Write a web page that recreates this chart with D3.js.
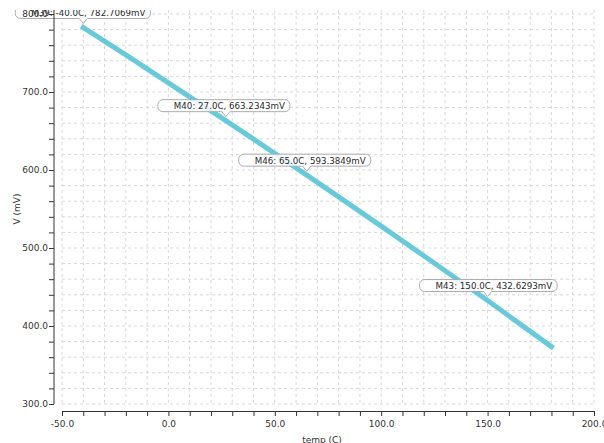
<!DOCTYPE html>
<html><head><meta charset="utf-8">
<script src="https://cdn.jsdelivr.net/npm/d3@7"></script>
<style>
html,body{margin:0;padding:0;background:#fff;}
svg{display:block;font-family:"DejaVu Sans",sans-serif;}
</style></head>
<body>
<svg id="c" width="604" height="443"></svg>
<script>
// Data
const temps   = [-40, -20, 0, 27, 40, 65, 80, 100, 120, 150, 180];
const voltage = [782.7, 747.5, 711.8, 663.2, 639.5, 593.4, 565.6, 528.0, 490.0, 432.6, 373.5];
const markerNames = ["M39", "M40", "M46", "M43"];
const markerTemps = [-40.0, 27.0, 65.0, 150.0];
const markerVals  = [782.7069, 663.2343, 593.3849, 432.6293];
const xTicks = [-50, 0, 50, 100, 150, 200];
const yTicks = [300, 400, 500, 600, 700, 800];

const svg = d3.select("#c");
const x = d3.scaleLinear().domain([-50, 200]).range([62, 594]);
const y = d3.scaleLinear().domain([300, 800]).range([404, 14]);
const plotTop = 10;

// grid
const g = svg.append("g");
g.selectAll("line.v").data(d3.range(-50, 201, 10)).join("line")
  .attr("x1", d => x(d)).attr("x2", d => x(d)).attr("y1", plotTop).attr("y2", 404)
  .attr("stroke", "#d8d8d8").attr("stroke-dasharray", "3,3");
g.selectAll("line.h").data(d3.range(300, 801, 20)).join("line")
  .attr("y1", d => y(d)).attr("y2", d => y(d)).attr("x1", 62).attr("x2", 594)
  .attr("stroke", "#d8d8d8").attr("stroke-dasharray", "3,3");

// line
const pts = temps.map((t, i) => [t, voltage[i]]);
svg.append("path").datum(pts)
  .attr("d", d3.line().x(d => x(d[0])).y(d => y(d[1])))
  .attr("fill", "none").attr("stroke", "#66cadb").attr("stroke-width", 5)
  .attr("stroke-linecap", "square");

// marker labels
svg.append("defs").append("clipPath").attr("id", "clipTop")
  .append("rect").attr("x", 0).attr("y", plotTop).attr("width", 604).attr("height", 443);
const mg = svg.append("g").attr("clip-path", "url(#clipTop)");
markerNames.forEach((nm, i) => {
  const px = x(markerTemps[i]), py = y(markerVals[i]);
  const label = nm + ": " + markerTemps[i].toFixed(1) + "C, " + markerVals[i].toFixed(4) + "mV";
  const grp = mg.append("g");
  const t = grp.append("text").attr("font-size", 8.7).attr("fill", "#2a2a2a").text(label);
  const tw = t.node().getComputedTextLength();
  const left = px - 68, bottom = py - 9, h = 12, topY = bottom - h, w = tw + 21, r = 5;
  const right = left + w;
  const p = d3.path();
  p.moveTo(left + r, topY);
  p.lineTo(right - r, topY);
  p.arcTo(right, topY, right, topY + r, r);
  p.lineTo(right, bottom - r);
  p.arcTo(right, bottom, right - r, bottom, r);
  p.lineTo(px + 4, bottom);
  p.lineTo(px, bottom + 5);
  p.lineTo(px - 4, bottom);
  p.lineTo(left + r, bottom);
  p.arcTo(left, bottom, left, bottom - r, r);
  p.lineTo(left, topY + r);
  p.arcTo(left, topY, left + r, topY, r);
  p.closePath();
  grp.insert("path", "text").attr("d", p.toString())
    .attr("fill", "#fff").attr("fill-opacity", 0.85).attr("stroke", "#ababab").attr("stroke-width", 1);
  t.attr("x", left + 16).attr("y", bottom - 2.5);
});

// y axis
const yAxis = d3.axisLeft(y).tickValues(d3.range(300, 801, 20))
  .tickFormat(d => yTicks.includes(d) ? d.toFixed(1) : "")
  .tickSize(5).tickSizeOuter(0).tickPadding(1);
const ya = svg.append("g").attr("transform", "translate(54,0)").call(yAxis);
ya.select(".domain").attr("d", `M0,${plotTop}V404`);
// x axis
const xAxis = d3.axisBottom(x).tickValues(d3.range(-50, 201, 10))
  .tickFormat(d => xTicks.includes(d) ? d.toFixed(1) : "")
  .tickSize(5).tickSizeOuter(0).tickPadding(5);
const xa = svg.append("g").attr("transform", "translate(0,411)").call(xAxis);
[ya, xa].forEach(a => {
  a.selectAll("text").attr("font-family", "DejaVu Sans").attr("font-size", 9).attr("fill", "#333");
  a.selectAll("line, .domain").attr("stroke", "#333");
});

// axis titles
svg.append("text").attr("transform", "translate(20,209) rotate(-90)")
  .attr("text-anchor", "middle").attr("font-size", 9).attr("fill", "#333").text("V (mV)");
svg.append("text").attr("x", 322).attr("y", 443)
  .attr("text-anchor", "middle").attr("font-size", 9).attr("fill", "#333").text("temp (C)");
</script>
</body></html>
